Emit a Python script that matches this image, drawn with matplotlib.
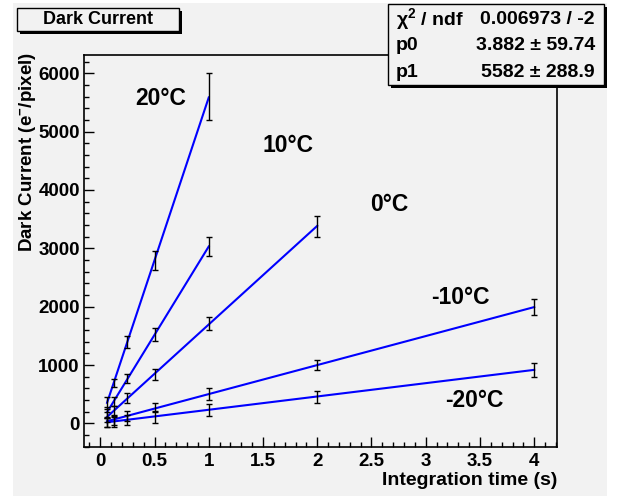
import matplotlib.pyplot as plt
from matplotlib.patches import Rectangle
from matplotlib.ticker import MultipleLocator

plt.rcParams['font.family'] = ['Liberation Sans', 'DejaVu Sans']
plt.rcParams['font.weight'] = 'bold'
plt.rcParams['mathtext.fontset'] = 'custom'
plt.rcParams['mathtext.rm'] = 'Liberation Sans:bold'
plt.rcParams['mathtext.it'] = 'Liberation Sans:bold'

# Data
times = [0.0625, 0.125, 0.25, 0.5, 1, 2, 4]
temps = ['20°C', '10°C', '0°C', '-10°C', '-20°C']

current_20 = [350, 690, 1400, 2790, 5600]
err_20 = [100, 75, 100, 160, 400]
current_10 = [190, 380, 766, 1520, 3030]
err_10 = [90, 80, 77, 108, 170]
current_0 = [105, 215, 430, 836, 1715, 3380]
err_0 = [90, 85, 83, 90, 115, 180]
current_m10 = [30, 60, 130, 273, 500, 1000, 1990]
err_m10 = [85, 85, 85, 74, 98, 90, 135]
current_m20 = [15, 30, 55, 110, 225, 450, 920]
err_m20 = [85, 85, 85, 105, 105, 100, 123]

# linear fit parameters (p0, p1) per temperature
fit_p0 = [3.882, 2, 5, 5, 5]
fit_p1 = [5582, 3030, 1690, 497, 228]

# label positions in data units
label_x = [0.555, 1.73, 2.66, 3.32, 3.45]
label_y = [5573, 4759, 3750, 2159, 384]

series = [(current_20, err_20), (current_10, err_10), (current_0, err_0),
          (current_m10, err_m10), (current_m20, err_m20)]

W, H = 617, 496
bg = '#f2f2f2'

fig = plt.figure(figsize=(W / 100, H / 100), dpi=100)
fig.patch.set_facecolor('white')


def fx(px):
    return px / W


def fy(py):
    return 1 - py / H


# gray canvas
fig.patches.append(Rectangle((fx(13), fy(496)), fx(607) - fx(13), fy(3) - fy(496),
                             transform=fig.transFigure, facecolor=bg, edgecolor='none', zorder=-5))

ax = fig.add_axes([fx(84), fy(447), fx(557) - fx(84), fy(55) - fy(447)])
ax.set_facecolor(bg)

for (vals, errs), p0, p1 in zip(series, fit_p0, fit_p1):
    xs = times[:len(vals)]
    ax.errorbar(xs, vals, yerr=errs, fmt='none', ecolor='black', elinewidth=1.0,
                capsize=2, capthick=1.0, zorder=3)
    x0, x1 = xs[0], xs[-1]
    ax.plot([x0, x1], [p0 + p1 * x0, p0 + p1 * x1], color='blue', lw=1.5, zorder=2)

for t, lx, ly in zip(temps, label_x, label_y):
    ax.text(lx, ly, t, fontsize=16.5, fontweight='bold', ha='center', va='center')

ax.set_xlim(-0.15, 4.21)
ax.set_ylim(-405, 6313)
ax.xaxis.set_major_locator(MultipleLocator(0.5))
ax.xaxis.set_minor_locator(MultipleLocator(0.1))
ax.yaxis.set_major_locator(MultipleLocator(1000))
ax.yaxis.set_minor_locator(MultipleLocator(200))
ax.xaxis.set_major_formatter(plt.FuncFormatter(lambda v, p: f'{v:g}'))
ax.tick_params(which='both', direction='in', top=False, right=False, labelsize=13.5)
ax.tick_params(which='major', length=7, width=1)
ax.tick_params(which='minor', length=3.5, width=1)
ax.tick_params(axis='x', pad=4)
ax.tick_params(axis='y', pad=3)
for s in ax.spines.values():
    s.set_linewidth(1.2)

ax.text(1.0, -0.085, 'Integration time (s)', transform=ax.transAxes, ha='right', va='center',
        fontsize=14, fontweight='bold')
ax.text(-0.12, 1.008, 'Dark Current (e$^{-}$/pixel)', transform=ax.transAxes, rotation=90,
        ha='center', va='top', fontsize=13.5, fontweight='bold')


def box(x0, y0, x1, y1):
    sh = 3
    fig.patches.append(Rectangle((fx(x0 + sh), fy(y1 + sh)), fx(x1 - x0), fy(y0) - fy(y1),
                                 transform=fig.transFigure, facecolor='black',
                                 edgecolor='none', zorder=5))
    fig.patches.append(Rectangle((fx(x0), fy(y1)), fx(x1 - x0), fy(y0) - fy(y1),
                                 transform=fig.transFigure, facecolor=bg,
                                 edgecolor='black', lw=1, zorder=6))


# title box
box(17, 8, 179, 31)
fig.text(fx(98), fy(19.5), 'Dark Current', ha='center', va='center', fontsize=13,
         fontweight='bold', zorder=7)

# stats box
box(388, 4, 604, 85)
stats_left = ['χ$^{2}$ / ndf', 'p0', 'p1']
stats_right = ['0.006973 / -2', '3.882 ± 59.74', '5582 ± 288.9']
for i, (a, b) in enumerate(zip(stats_left, stats_right)):
    yy = 19.5 + i * 26.5
    fig.text(fx(396), fy(yy), a, ha='left', va='center', fontsize=14, fontweight='bold', zorder=7)
    fig.text(fx(595), fy(yy), b, ha='right', va='center', fontsize=14, fontweight='bold', zorder=7)

fig.savefig('out.png', dpi=100, facecolor=fig.get_facecolor())
